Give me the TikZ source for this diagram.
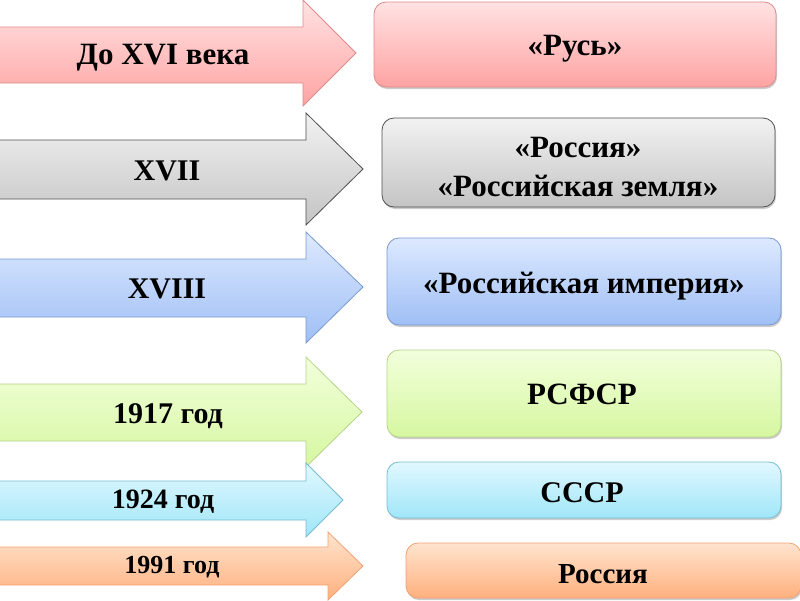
\documentclass[tikz,border=0pt]{standalone}
\usepackage{fontspec}
\setmainfont{Liberation Serif}
\usetikzlibrary{shadows}
\definecolor{pkT}{HTML}{FFE2E2}\definecolor{pkB}{HTML}{FFA3A3}\definecolor{pkD}{HTML}{E08A8A}
\definecolor{grT}{HTML}{F2F2F2}\definecolor{grB}{HTML}{C4C4C4}\definecolor{grD}{HTML}{505050}
\definecolor{blT}{HTML}{DDE9FF}\definecolor{blB}{HTML}{9FBFF5}\definecolor{blD}{HTML}{7898D2}
\definecolor{gnT}{HTML}{F2FFDC}\definecolor{gnB}{HTML}{D6F7A0}\definecolor{gnD}{HTML}{B4D488}
\definecolor{cyT}{HTML}{E2F8FF}\definecolor{cyB}{HTML}{9FE6F8}\definecolor{cyD}{HTML}{74BCD4}
\definecolor{orT}{HTML}{FFE4CE}\definecolor{orB}{HTML}{FFB07E}\definecolor{orD}{HTML}{F0A274}
\tikzset{
  arr/.style n args={3}{top color=#1, bottom color=#2, draw=#3, line width=0.8pt, line join=miter},
  bx/.style n args={3}{top color=#1, bottom color=#2, draw=#3, line width=0.8pt, rounded corners=12pt,
     drop shadow={shadow xshift=1pt, shadow yshift=-2pt, opacity=0.2, fill=black}},
  lbl/.style={text=black, align=center, inner sep=0pt, anchor=base}
}
\begin{document}
\begin{tikzpicture}[x=1pt,y=-1pt]
\useasboundingbox (0,0) rectangle (800,600);
% arrows
\draw[arr={pkT}{pkB}{pkD}] (-2,27) -- (303,27) -- (303,0) -- (356,53) -- (303,106) -- (303,83) -- (-2,83) -- cycle;
\draw[arr={grT}{grB}{grD}] (-2,140) -- (306,140) -- (306,113) -- (363,169) -- (306,225) -- (306,199) -- (-2,199) -- cycle;
\draw[arr={blT}{blB}{blD}] (-2,259) -- (306,259) -- (306,232) -- (363,287) -- (306,343) -- (306,317) -- (-2,317) -- cycle;
\draw[arr={gnT}{gnB}{gnD}] (-2,384) -- (306,384) -- (306,357) -- (362,412) -- (306,467) -- (306,441) -- (-2,441) -- cycle;
\draw[arr={cyT}{cyB}{cyD}] (-2,481) -- (306,481) -- (306,463) -- (343,500) -- (306,537) -- (306,520) -- (-2,520) -- cycle;
\draw[arr={orT}{orB}{orD}] (-2,547) -- (328,547) -- (328,532) -- (363,566) -- (328,600) -- (328,585) -- (-2,585) -- cycle;
\node[lbl, font=\fontsize{31}{36}\selectfont\bfseries] (a1) at (163,64) {До XVI века};
\node[lbl, font=\fontsize{30}{34}\selectfont\bfseries] (a2) at (167,180) {XVII};
\node[lbl, font=\fontsize{30}{34}\selectfont\bfseries] (a3) at (167,298) {XVIII};
\node[lbl, font=\fontsize{30}{34}\selectfont\bfseries] (a4) at (168,423) {1917 год};
\node[lbl, font=\fontsize{28}{32}\selectfont\bfseries] (a5) at (163,508) {1924 год};
\node[lbl, font=\fontsize{26}{30}\selectfont\bfseries] (a6) at (172,573) {1991 год};
% boxes
\draw[bx={pkT}{pkB}{pkD}] (374,2) rectangle (776,87);
\draw[bx={grT}{grB}{grD}] (382,118) rectangle (775,207);
\draw[bx={blT}{blB}{blD}] (387,238) rectangle (781,325);
\draw[bx={gnT}{gnB}{gnD}] (387,350) rectangle (781,437);
\draw[bx={cyT}{cyB}{cyD}] (387,462) rectangle (781,518);
\draw[bx={orT}{orB}{orD}] (406,543) rectangle (801,598);
\node[lbl, font=\fontsize{31}{36}\selectfont\bfseries] (b1) at (575,55) {«Русь»};
\node[lbl, anchor=center, font=\fontsize{31}{39}\selectfont\bfseries] (b2) at (578,167) {«Россия»\\«Российская земля»};
\node[lbl, font=\fontsize{31}{36}\selectfont\bfseries] (b3) at (584,293) {«Российская империя»};
\node[lbl, font=\fontsize{31}{36}\selectfont\bfseries] (b4) at (582,404) {РСФСР};
\node[lbl, font=\fontsize{30}{36}\selectfont\bfseries] (b5) at (582,502) {СССР};
\node[lbl, font=\fontsize{29}{34}\selectfont\bfseries] (b6) at (603,583) {Россия};
\end{tikzpicture}
\end{document}
